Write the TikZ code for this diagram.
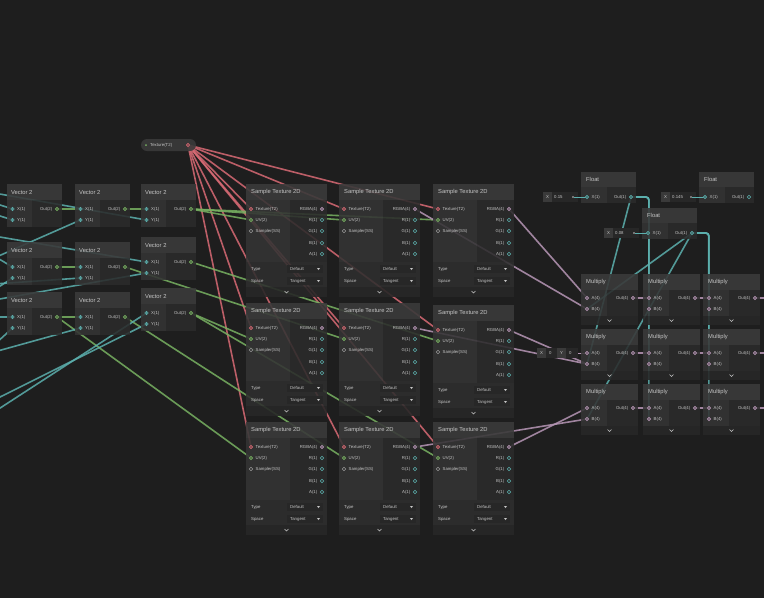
\documentclass[tikz,border=0pt]{standalone}
\usepackage{fontspec}
\setmainfont{Liberation Sans}
\usetikzlibrary{positioning}
\definecolor{sg-back}{HTML}{1E1E1E}
\definecolor{sg-head}{HTML}{3A3A3A}
\definecolor{sg-in}{HTML}{343434}
\definecolor{sg-out}{HTML}{2B2B2B}
\definecolor{sg-set}{HTML}{2F2F2F}
\definecolor{sg-foot}{HTML}{272727}
\definecolor{sg-text}{HTML}{C6C6C6}
\definecolor{sg-tex}{HTML}{D86A74}
\definecolor{sg-uv}{HTML}{78B262}
\definecolor{sg-float}{HTML}{5CB0AE}
\definecolor{sg-vec}{HTML}{B797B6}
\definecolor{sg-ss}{HTML}{9A9A9A}
\pgfdeclarelayer{back}
\pgfdeclarelayer{wires}
\pgfsetlayers{back,wires,main}
\tikzset{
  node-head/.style={fill=sg-head, fill opacity=0.9},
  node-in/.style={fill=sg-in, fill opacity=0.88},
  node-out/.style={fill=sg-out, fill opacity=0.88},
  node-set/.style={fill=sg-set, fill opacity=0.88},
  node-foot/.style={fill=sg-foot, fill opacity=0.9},
  drop-box/.style={fill=sg-foot},
  head-text/.style={anchor=west, inner sep=0pt, text=sg-text, font=\fontsize{5.8}{6.5}\selectfont},
  port-text/.style={inner sep=0pt, text=sg-text, font=\fontsize{4.3}{5}\selectfont},
  in-text/.style={port-text, anchor=west},
  out-text/.style={port-text, anchor=east},
  port/.style={circle, draw=#1, line width=0.45pt, minimum size=3.6pt, inner sep=0pt, fill=sg-out},
  linked/.style={port=#1, path picture={\fill[#1] (path picture bounding box.center) circle (0.8pt);}},
  chevron/.style={draw=sg-text, line width=0.5pt},
  wire/.style={line width=1.6pt, rounded corners=3pt, opacity=0.85},
  wire-tex/.style={wire, draw=sg-tex},
  wire-uv/.style={wire, draw=sg-uv},
  wire-float/.style={wire, draw=sg-float},
  wire-vec/.style={wire, draw=sg-vec},
}
\newcommand{\tikzwire}[3][]{%
\draw[#1] (#2) -- ([xshift=6pt]#2) -- ([xshift=-6pt]#3) -- (#3);
}
\newcommand{\tikzvectornode}[3]{%
% header
\fill[node-head] (#2,#3) rectangle ++(55,16);
\node[head-text] (#1-title) at (#2+4,#3+8) {Vector 2};
% ports
\fill[node-in] (#2,#3+16) rectangle ++(25,27);
\fill[node-out] (#2+25,#3+16) rectangle ++(30,27);
\node[linked=sg-float] (#1-x) at (#2+5.5,#3+25) {};
\node[linked=sg-float] (#1-y) at (#2+5.5,#3+36) {};
\node[linked=sg-uv] (#1-out) at (#2+50,#3+25) {};
\node[in-text, right=2.5pt of #1-x] (#1-xl) {X(1)};
\node[in-text, right=2.5pt of #1-y] (#1-yl) {Y(1)};
\node[out-text, left=2.5pt of #1-out] (#1-outl) {Out(2)};
}
\newcommand{\tikzsamplenode}[3]{%
% header
\fill[node-head] (#2,#3) rectangle ++(81,16);
\node[head-text] (#1-title) at (#2+5,#3+8) {Sample Texture 2D};
% ports
\fill[node-in] (#2,#3+16) rectangle ++(44,62);
\fill[node-out] (#2+44,#3+16) rectangle ++(37,62);
\node[linked=sg-tex] (#1-tex) at (#2+5,#3+25) {};
\node[linked=sg-uv] (#1-uv) at (#2+5,#3+36) {};
\node[port=sg-ss] (#1-ss) at (#2+5,#3+47) {};
\node[in-text, right=2.5pt of #1-tex] (#1-texl) {Texture(T2)};
\node[in-text, right=2.5pt of #1-uv] (#1-uvl) {UV(2)};
\node[in-text, right=2.5pt of #1-ss] (#1-ssl) {Sampler(SS)};
\node[linked=sg-vec] (#1-rgba) at (#2+76,#3+25) {};
\node[out-text, left=2.5pt of #1-rgba] (#1-rgbal) {RGBA(4)};
\foreach \ch/\dy in {R/36,G/47,B/59,A/70} {
  \node[port=sg-float] (#1-\ch) at (#2+76,#3+\dy) {};
  \node[out-text, left=2.5pt of #1-\ch] (#1-\ch-l) {\ch(1)};
}
% type and space
\fill[node-set] (#2,#3+78) rectangle ++(81,25);
\node[in-text] (#1-typel) at (#2+5,#3+85) {Type};
\node[in-text] (#1-spacel) at (#2+5,#3+97) {Space};
\fill[drop-box] (#2+41,#3+81) rectangle ++(36,8);
\fill[drop-box] (#2+41,#3+93) rectangle ++(36,8);
\node[in-text] (#1-type) at (#2+44,#3+85) {Default};
\node[in-text] (#1-space) at (#2+44,#3+97) {Tangent};
\fill[sg-text] (#2+71,#3+84) -- ++(3,0) -- ++(-1.5,2) -- cycle;
\fill[sg-text] (#2+71,#3+96) -- ++(3,0) -- ++(-1.5,2) -- cycle;
% footer
\fill[node-foot] (#2,#3+103) rectangle ++(81,10);
\draw[chevron] (#2+38.5,#3+107) -- ++(2,2) -- ++(2,-2);
}
\newcommand{\tikzmultiplynode}[3]{%
\fill[node-head] (#2,#3) rectangle ++(57,16);
\node[head-text] (#1-title) at (#2+5,#3+8) {Multiply};
\fill[node-in] (#2,#3+16) rectangle ++(26,26);
\fill[node-out] (#2+26,#3+16) rectangle ++(31,26);
\node[linked=sg-vec] (#1-a) at (#2+6,#3+24) {};
\node[linked=sg-vec] (#1-b) at (#2+6,#3+35) {};
\node[linked=sg-vec] (#1-out) at (#2+52,#3+24) {};
\node[in-text, right=2.5pt of #1-a] (#1-al) {A(4)};
\node[in-text, right=2.5pt of #1-b] (#1-bl) {B(4)};
\node[out-text, left=2.5pt of #1-out] (#1-outl) {Out(4)};
\fill[node-foot] (#2,#3+42) rectangle ++(57,9);
\draw[chevron] (#2+26.5,#3+45.5) -- ++(2,2) -- ++(2,-2);
}
\newcommand{\tikzfloatnode}[5][linked]{%
\fill[node-head] (#3,#4) rectangle ++(55,15);
\node[head-text] (#2-title) at (#3+5,#4+7.5) {Float};
\fill[node-in] (#3,#4+15) rectangle ++(26,16);
\fill[node-out] (#3+26,#4+15) rectangle ++(29,16);
% value field
\fill[drop-box] (#3-38,#4+20) rectangle ++(35,10);
\fill[sg-head] (#3-38,#4+20) rectangle ++(9,10);
\node[port-text] (#2-fx) at (#3-33.5,#4+25) {X};
\node[in-text] (#2-val) at (#3-27,#4+25) {#5};
\node[circle, fill=sg-text, inner sep=0pt, minimum size=1.6pt] (#2-dot) at (#3-8,#4+25) {};
\draw[sg-float, line width=1pt] (#2-dot) -- (#3+6,#4+25);
\node[linked=sg-float] (#2-x) at (#3+6,#4+25) {};
\node[#1=sg-float] (#2-out) at (#3+50,#4+25) {};
\node[in-text, right=2.5pt of #2-x] (#2-xl) {X(1)};
\node[out-text, left=2.5pt of #2-out] (#2-outl) {Out(1)};
}

\begin{document}
\begin{tikzpicture}[x=1pt, y=-1pt]
\useasboundingbox (0,0) rectangle (764,598);
\begin{pgfonlayer}{back}
\fill[sg-back] (0,0) rectangle (764,598);
\end{pgfonlayer}

% texture property
\fill[node-head, rounded corners=6pt] (141,139) rectangle (196,151);
\node[circle, fill=sg-uv, inner sep=0pt, minimum size=2pt] (prop-dot) at (146,145) {};
\node[in-text] (prop-label) at (150,145) {Texture(T2)};
\node[linked=sg-tex] (tex-out) at (188,145) {};

% vector 2 nodes
\tikzvectornode{v1a}{7}{184}
\tikzvectornode{v1b}{7}{242}
\tikzvectornode{v1c}{7}{292}
\tikzvectornode{v2a}{75}{184}
\tikzvectornode{v2b}{75}{242}
\tikzvectornode{v2c}{75}{292}
\tikzvectornode{v3a}{141}{184}
\tikzvectornode{v3b}{141}{237}
\tikzvectornode{v3c}{141}{288}

% sample texture nodes
\tikzsamplenode{s11}{246}{184}
\tikzsamplenode{s12}{339}{184}
\tikzsamplenode{s13}{433}{184}
\tikzsamplenode{s21}{246}{303}
\tikzsamplenode{s22}{339}{303}
\tikzsamplenode{s23}{433}{305}
\tikzsamplenode{s31}{246}{422}
\tikzsamplenode{s32}{339}{422}
\tikzsamplenode{s33}{433}{422}

% floats and multiplies
\tikzfloatnode{f1}{581}{172}{0.15}
\tikzfloatnode[port]{f2}{699}{172}{0.145}
\tikzfloatnode{f3}{642}{208}{0.08}
\foreach \r/\y in {1/274,2/329,3/384} {
  \tikzmultiplynode{m\r1}{581}{\y}
  \tikzmultiplynode{m\r2}{643}{\y}
  \tikzmultiplynode{m\r3}{703}{\y}
}

% vector field on m21
\fill[drop-box] (537,348) rectangle (578,358);
\fill[sg-head] (537,348) rectangle ++(9,10);
\fill[sg-head] (557,348) rectangle ++(9,10);
\node[port-text] (m21-fx) at (541.5,353) {X};
\node[in-text] (m21-fxv) at (549,353) {0};
\node[port-text] (m21-fy) at (561.5,353) {Y};
\node[in-text] (m21-fyv) at (569,353) {0};

\begin{pgfonlayer}{wires}
% texture fan
\foreach \s in {s11,s12,s13,s21,s22,s23,s31,s32,s33}
  \tikzwire[wire-tex]{tex-out}{\s-tex};
% vector 2 chain
\tikzwire[wire-uv]{v1a-out}{v2a-x}
\tikzwire[wire-uv]{v1b-out}{v2b-x}
\tikzwire[wire-uv]{v1c-out}{v2c-x}
\tikzwire[wire-uv]{v2a-out}{v3a-x}
\foreach \s in {s11,s12,s13}
  \tikzwire[wire-uv]{v3a-out}{\s-uv};
\tikzwire[wire-uv]{v3b-out}{s23-uv}
\tikzwire[wire-uv]{v2b-out}{s22-uv}
\tikzwire[wire-uv]{v3c-out}{s21-uv}
\tikzwire[wire-uv]{v3c-out}{s33-uv}
\tikzwire[wire-uv]{v1c-out}{s31-uv}
\tikzwire[wire-uv]{v2c-out}{s32-uv}
% floats from outside
\foreach \y/\p in {203/v1a-x,214/v1a-y,193/v3a-y,258/v2a-y,256/v1b-x,290/v1b-y,284/v2b-y,236/v3b-x,300/v3b-y,317/v1c-x,345/v1c-y,352/v2c-y,412/v3c-x,400/v3c-y} {
  \coordinate (edge-\p) at (-12,\y);
  \tikzwire[wire-float]{edge-\p}{\p}
}
% floats into multiply
\foreach \r in {1,2,3} {
  \draw[wire-float] (f1-out) -| ([xshift=-8pt]m\r2-b) -- (m\r2-b);
  \draw[wire-float] (f3-out) -| ([xshift=-8pt]m\r3-b) -- (m\r3-b);
}
\tikzwire[wire-float]{f3-out}{m11-b}
\tikzwire[wire-float]{f1-out}{m21-b}
\tikzwire[wire-float]{f3-out}{m31-b}
% rgba into multiply
\tikzwire[wire-vec]{s13-rgba}{m11-a}
\tikzwire[wire-vec]{s12-rgba}{m11-b}
\tikzwire[wire-vec]{s23-rgba}{m21-b}
\tikzwire[wire-vec]{s22-rgba}{m21-b}
\tikzwire[wire-vec]{s33-rgba}{m31-a}
\tikzwire[wire-vec]{s32-rgba}{m31-b}
\draw[sg-vec, line width=1pt] (578,353) -- (m21-a);
\foreach \r/\y in {1/298,2/353,3/408} {
  \tikzwire[wire-vec]{m\r1-out}{m\r2-a}
  \tikzwire[wire-vec]{m\r2-out}{m\r3-a}
  \coordinate (edge-m\r) at (776,\y);
  \tikzwire[wire-vec]{m\r3-out}{edge-m\r}
}
\end{pgfonlayer}
\end{tikzpicture}
\end{document}
